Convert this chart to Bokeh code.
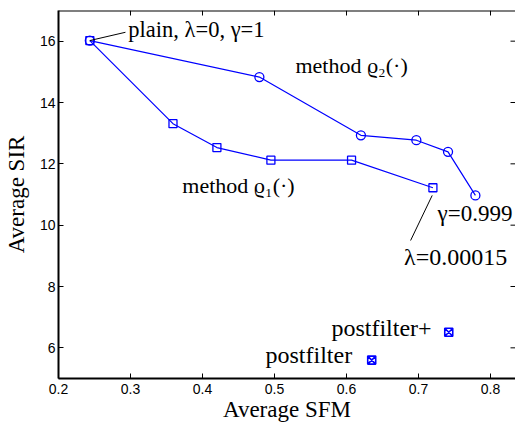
import math
from bokeh.plotting import figure
from bokeh.models import Range1d, Label, FixedTicker, Span
from bokeh.embed import file_html
from bokeh.resources import INLINE

# ---- data ----
sfm_rho2 = [0.2435, 0.479, 0.620, 0.697, 0.741, 0.779]
sir_rho2 = [16.02, 14.83, 12.93, 12.77, 12.39, 10.97]

sfm_rho1 = [0.2435, 0.359, 0.420, 0.495, 0.607, 0.720]
sir_rho1 = [16.02, 13.31, 12.53, 12.12, 12.12, 11.22]

sfm_post = [0.635]
sir_post = [5.60]
sfm_postplus = [0.742]
sir_postplus = [6.51]

x_ticks = [0.2, 0.3, 0.4, 0.5, 0.6, 0.7, 0.8]
y_ticks = [6, 8, 10, 12, 14, 16]

X_MIN, X_MAX = 0.2, 0.8347
Y_MIN, Y_MAX = 5, 17

BLUE = "#0000ff"
SERIF = "Liberation Serif"
SANS = "Liberation Sans"

p = figure(width=515, height=424, x_range=Range1d(X_MIN, X_MAX), y_range=Range1d(Y_MIN, Y_MAX),
           output_backend="svg", toolbar_location=None,
           min_border_left=58, min_border_right=0, min_border_top=10, min_border_bottom=46,
           x_axis_label="Average SFM", y_axis_label="Average SIR")
p.xgrid.visible = False
p.ygrid.visible = False
p.outline_line_color = None
p.background_fill_color = "white"
p.border_fill_color = "white"

for ax, ticks in ((p.xaxis[0], x_ticks), (p.yaxis[0], y_ticks)):
    ax.ticker = FixedTicker(ticks=ticks)
    ax.minor_tick_line_color = None
    ax.major_tick_in = 5
    ax.major_tick_out = 0
    ax.axis_line_width = 2
    ax.axis_line_color = "black"
    ax.major_tick_line_color = "black"
    ax.major_label_text_font = SANS
    ax.major_label_text_font_size = "14px"
    ax.major_label_text_color = "black"
    ax.axis_label_text_font = SERIF
    ax.axis_label_text_font_size = "23px"
    ax.axis_label_text_font_style = "normal"
    ax.axis_label_text_color = "black"

p.xaxis[0].major_label_standoff = 5
p.xaxis[0].axis_label_standoff = 0
p.yaxis[0].major_label_standoff = 3
p.yaxis[0].axis_label_standoff = 8

# top frame line and inward ticks on top / right
p.add_layout(Span(location=Y_MAX, dimension="width", line_color="black", line_width=2))
p.ray(x=x_ticks, y=[Y_MAX] * len(x_ticks), length=5, length_units="screen",
      angle=-math.pi / 2, line_color="black", line_width=1)
p.ray(x=[X_MAX] * len(y_ticks), y=y_ticks, length=5, length_units="screen",
      angle=math.pi, line_color="black", line_width=1)

# series
p.line(sfm_rho2, sir_rho2, line_color=BLUE, line_width=1.2)
p.scatter(sfm_rho2, sir_rho2, marker="circle", size=9, line_color=BLUE, fill_color=None, line_width=1.3)
p.line(sfm_rho1, sir_rho1, line_color=BLUE, line_width=1.2)
p.scatter(sfm_rho1, sir_rho1, marker="square", size=8, line_color=BLUE, fill_color=None, line_width=1.3)
p.scatter(sfm_post, sir_post, marker="square_x", size=8, line_color=BLUE, fill_color=None, line_width=1.6)
p.scatter(sfm_postplus, sir_postplus, marker="square_x", size=8, line_color=BLUE, fill_color=None, line_width=1.6)

# leader lines
p.segment(x0=[sfm_rho1[0], sfm_rho1[-1] - 0.001], y0=[sir_rho1[0], sir_rho1[-1] - 0.25],
          x1=[0.293, 0.689], y1=[16.29, 9.50], line_color="black", line_width=1)

DY = 0.28  # baseline correction

def lab(x, y, t, size="22px"):
    p.add_layout(Label(x=x, y=y + DY, text=t, text_font=SERIF, text_font_size=size,
                       text_color="black", text_align="left", text_baseline="alphabetic"))

lab(0.297, 16.10, "plain, λ=0, γ=1", "22.5px")
lab(0.529, 14.93, "method ϱ₂(·)")
lab(0.372, 11.02, "method ϱ₁(·)")
lab(0.7265, 10.11, "γ=0.999", "23px")
lab(0.680, 8.68, "λ=0.00015", "24px")
lab(0.579, 6.37, "postfilter+", "24px")
lab(0.4875, 5.50, "postfilter", "24px")

open("out.html", "w").write(file_html(p, INLINE))
